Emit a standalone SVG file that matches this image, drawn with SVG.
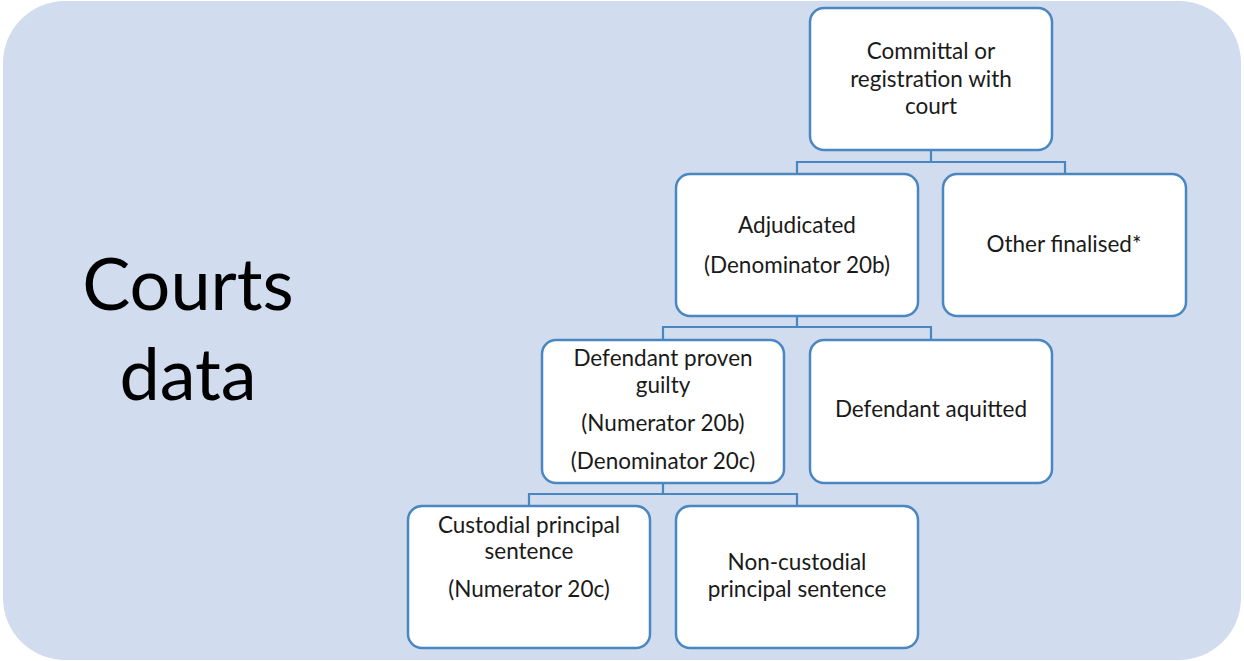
<svg xmlns="http://www.w3.org/2000/svg" width="1244" height="661" viewBox="0 0 1244 661">
<style>
.box{fill:#ffffff;stroke:#4a86c0;stroke-width:2.5}
.conn{fill:none;stroke:#4a86c0;stroke-width:2.2}
.t{font-family:Lato,"Open Sans",sans-serif;font-size:22.5px;fill:#1a1a1a;text-anchor:middle}
.big{font-family:Lato,"Open Sans",sans-serif;font-size:72px;fill:#000;text-anchor:middle}
</style>
<rect x="3" y="1" width="1238" height="659" rx="62" ry="62" fill="#d1dcee"/>
<g id="title"><text class="big" x="188" y="310">Courts</text><text class="big" x="188" y="400">data</text></g>
<g id="connectors">
<path class="conn" d="M931 150V162M797 173V162H1065V173"/>
<path class="conn" d="M797 316V327M663 340V327H931V340"/>
<path class="conn" d="M663 483V494M529 506V494H797V506"/>
</g>
<g id="n-committal"><rect class="box" x="810" y="8" width="242" height="142" rx="14"/>
<text class="t" x="931" y="59">Committal or</text><text class="t" x="931" y="87">registration with</text><text class="t" x="931" y="114">court</text></g>
<g id="n-adjudicated"><rect class="box" x="676" y="174" width="242" height="142" rx="14"/>
<text class="t" x="797" y="233">Adjudicated</text><text class="t" x="797" y="273">(Denominator 20b)</text></g>
<g id="n-other"><rect class="box" x="943" y="174" width="243" height="142" rx="14"/>
<text class="t" x="1064" y="252">Other finalised*</text></g>
<g id="n-guilty"><rect class="box" x="542" y="340" width="242" height="143" rx="14"/>
<text class="t" x="663" y="366">Defendant proven</text><text class="t" x="663" y="393">guilty</text><text class="t" x="663" y="431">(Numerator 20b)</text><text class="t" x="663" y="469">(Denominator 20c)</text></g>
<g id="n-aquitted"><rect class="box" x="810" y="340" width="242" height="143" rx="14"/>
<text class="t" x="931" y="417">Defendant aquitted</text></g>
<g id="n-custodial"><rect class="box" x="408" y="506" width="242" height="142" rx="14"/>
<text class="t" x="529" y="533">Custodial principal</text><text class="t" x="529" y="559">sentence</text><text class="t" x="529" y="597">(Numerator 20c)</text></g>
<g id="n-noncustodial"><rect class="box" x="676" y="506" width="242" height="142" rx="14"/>
<text class="t" x="797" y="570">Non-custodial</text><text class="t" x="797" y="597">principal sentence</text></g>
</svg>
